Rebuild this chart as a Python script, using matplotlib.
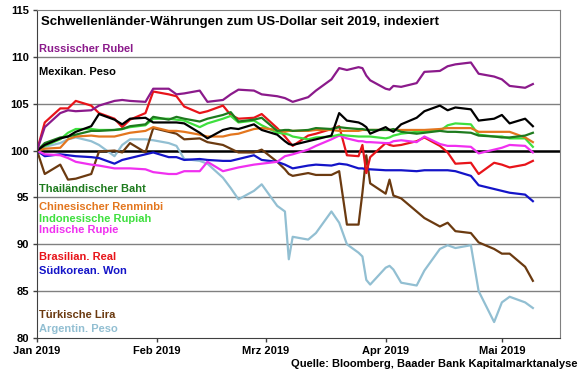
import matplotlib
matplotlib.use("Agg")
import matplotlib.pyplot as plt
import matplotlib.dates as mdates
import matplotlib.transforms as mtransforms
import pandas as pd

plt.rcParams['font.family'] = ['Liberation Sans', 'DejaVu Sans']

# Data (index, 1.1.2019 = 100)
dates = pd.to_datetime([
    "2019-01-01", "2019-01-03", "2019-01-07", "2019-01-09", "2019-01-11", "2019-01-15",
    "2019-01-17", "2019-01-21", "2019-01-23", "2019-01-25", "2019-01-29", "2019-01-31",
    "2019-02-04", "2019-02-06", "2019-02-08", "2019-02-12", "2019-02-14", "2019-02-18",
    "2019-02-20", "2019-02-22", "2019-02-26", "2019-02-28",
    "2019-03-04", "2019-03-06", "2019-03-07", "2019-03-08", "2019-03-12", "2019-03-14",
    "2019-03-18", "2019-03-20", "2019-03-22", "2019-03-25", "2019-03-26", "2019-03-27",
    "2019-03-28",
    "2019-04-01", "2019-04-02", "2019-04-03", "2019-04-05", "2019-04-09", "2019-04-11",
    "2019-04-15", "2019-04-17", "2019-04-19", "2019-04-23", "2019-04-25", "2019-04-29",
    "2019-05-01", "2019-05-03", "2019-05-07", "2019-05-09",
])

rub = [100.0, 102.5, 104.0, 104.3, 104.2, 104.3, 104.8, 105.3, 105.4, 105.3, 105.2, 106.6,
       106.6, 106.0, 106.1, 106.4, 105.2, 105.4, 106.0, 106.5, 106.4, 106.0,
       105.8, 105.6, 105.4, 105.2, 105.7, 106.4, 107.6, 108.8, 108.6, 108.9, 108.8, 108.0, 107.5,
       106.6, 106.5, 106.9, 106.8, 107.2, 108.4, 108.5, 109.0, 109.2, 109.4, 108.2, 107.9,
       107.6, 106.9, 106.7, 107.1]
mxn = [100.0, 100.6, 101.3, 101.5, 102.0, 102.6, 103.9, 103.3, 102.8, 103.4, 103.5, 103.0,
       103.0, 103.0, 102.9, 101.9, 101.3, 102.2, 102.4, 102.3, 102.8, 102.2,
       101.7, 101.0, 100.7, 100.6, 101.0, 101.2, 101.6, 104.0, 103.2, 103.0, 102.8, 102.5, 101.8,
       102.5, 102.2, 102.0, 102.8, 103.5, 104.2, 104.8, 104.3, 104.6, 104.4, 103.2, 103.4,
       103.8, 102.9, 103.4, 102.6]
thb = [100.0, 100.8, 101.4, 101.5, 101.7, 102.1, 102.1, 102.2, 102.3, 102.6, 102.8, 103.6,
       103.3, 103.6, 103.4, 103.1, 103.4, 103.8, 104.1, 103.1, 103.3, 103.5,
       102.1, 102.2, 102.2, 102.1, 102.2, 102.4, 102.3, 102.5, 102.4, 102.3, 102.3, 102.2, 102.2,
       102.2, 102.2, 102.3, 102.0, 101.8, 101.9, 102.1, 102.0, 102.0, 101.9, 101.6, 101.5,
       101.4, 101.4, 101.6, 101.9]
cny = [100.0, 100.2, 100.3, 101.2, 101.5, 101.6, 101.5, 101.5, 101.7, 101.9, 102.1, 102.5,
       102.1, 102.1, 102.0, 101.7, 101.5, 101.5, 101.7, 101.8, 102.3, 102.4,
       102.2, 102.0, 102.1, 102.1, 102.1, 102.2, 102.2, 102.1, 102.1, 102.1, 102.2, 102.2, 102.2,
       102.2, 102.2, 102.2, 102.2, 102.2, 102.2, 102.3, 102.4, 102.4, 102.4, 102.0, 102.0,
       102.0, 102.0, 101.4, 100.9]
idr = [100.0, 100.5, 101.2, 101.9, 102.3, 102.3, 102.2, 102.2, 102.3, 102.5, 102.7, 103.4,
       103.4, 103.3, 103.2, 102.5, 102.9, 103.4, 103.7, 103.0, 103.2, 102.7,
       101.9, 101.8, 101.7, 101.5, 101.2, 101.4, 101.5, 101.7, 101.6, 101.5, 101.5, 101.5, 101.5,
       101.3, 101.4, 101.6, 101.8, 102.0, 102.1, 102.1, 102.7, 102.9, 102.8, 101.7, 101.5,
       101.5, 101.3, 101.3, 100.4]
inr = [100.0, 99.6, 99.5, 99.2, 98.8, 98.5, 98.4, 98.1, 98.1, 98.1, 98.0, 97.7,
       97.5, 97.5, 97.8, 97.8, 98.8, 97.8, 98.0, 98.2, 98.5, 98.6,
       98.8, 99.4, 99.5, 99.6, 100.1, 100.5, 101.2, 101.6, 101.3, 101.0, 101.0, 100.9, 100.9,
       100.8, 100.8, 101.0, 101.1, 100.9, 101.5, 100.7, 100.5, 100.5, 100.4, 99.7, 100.1,
       100.3, 100.6, 100.5, 99.8]
brl = [100.0, 103.0, 104.5, 104.5, 105.3, 104.8, 104.0, 103.4, 102.5, 103.3, 104.0, 106.3,
       106.0, 105.8, 104.7, 104.0, 104.2, 104.8, 103.8, 103.4, 103.5, 103.9,
       102.4, 101.5, 101.0, 100.5, 101.6, 101.8, 102.3, 102.6, 99.5, 99.4, 100.6, 97.6, 99.3,
       100.8, 100.6, 100.5, 100.6, 101.0, 101.4, 100.5, 99.8, 98.6, 98.7, 97.5, 98.7,
       98.5, 98.2, 98.5, 98.9]
krw = [100.0, 99.4, 99.6, 99.5, 99.4, 99.3, 99.2, 98.6, 99.0, 99.2, 99.6, 99.8,
       99.3, 99.3, 99.0, 99.1, 99.0, 98.9, 98.9, 99.1, 99.5, 99.0,
       98.8, 98.5, 98.3, 98.1, 98.4, 98.5, 98.4, 98.6, 98.5, 98.1, 98.1, 98.0, 98.0,
       97.9, 97.9, 97.9, 97.9, 97.8, 97.9, 97.9, 97.9, 97.8, 97.3, 96.3, 95.9,
       95.7, 95.5, 95.3, 94.6]
tl = [100.0, 97.5, 98.5, 96.9, 97.0, 97.5, 99.9, 100.0, 99.8, 100.8, 99.8, 102.4,
      102.0, 101.8, 101.2, 101.3, 100.9, 100.6, 100.2, 99.8, 99.8, 100.1,
      98.8, 98.0, 97.5, 97.3, 97.6, 97.4, 97.4, 97.8, 92.1, 92.1, 95.5, 99.5, 96.5,
      95.4, 96.9, 95.2, 94.9, 93.5, 92.8, 91.9, 92.3, 91.4, 91.2, 90.2, 89.5,
      89.0, 89.0, 87.6, 86.1]
ars = [100.0, 100.4, 100.8, 101.2, 101.4, 101.0, 100.6, 99.4, 100.6, 101.2, 101.2, 101.1,
       100.8, 100.5, 99.1, 98.9, 98.6, 97.1, 96.0, 94.8, 95.7, 96.4,
       94.1, 93.5, 88.4, 90.8, 90.5, 91.2, 93.5, 92.3, 90.0, 89.1, 88.7, 86.2, 85.7,
       87.5, 87.7, 87.3, 85.9, 85.6, 87.2, 89.5, 89.9, 89.6, 89.9, 85.0, 81.7,
       83.8, 84.4, 83.8, 83.2]

# name, values, colour, label height (data units)
series = [
    ("Russischer Rubel", rub, "#8b1a8b", 110.8),
    ("Mexikan. Peso", mxn, "#000000", 108.4),
    ("Thailändischer Baht", thb, "#1e7b1e", 95.9),
    ("Chinesischer Renminbi", cny, "#e3761e", 94.0),
    ("Indonesische Rupiah", idr, "#3ee03e", 92.7),
    ("Indische Rupie", inr, "#f030f0", 91.5),
    ("Brasilian. Real", brl, "#e8141a", 88.6),
    ("Südkorean. Won", krw, "#1414c8", 87.2),
    ("Türkische Lira", tl, "#6b3a10", 82.5),
    ("Argentin. Peso", ars, "#92bfd2", 81.0),
]

fig = plt.figure(figsize=(5.8, 3.75), dpi=100)
ax = fig.add_axes([0.0638, 0.0987, 0.9017, 0.8746])

# horizontal grid lines and the thick 100 line
for g in [85, 90, 95, 105, 110]:
    ax.axhline(g, color="#808080", lw=1.0, zorder=1)
ax.axhline(100, color="black", lw=1.8, zorder=1.5)

# draw the series (back to front)
for name, values, color, ylab in reversed(series):
    ax.plot(dates, values, color=color, lw=1.6, zorder=2)

# labels inside the chart
trans = mtransforms.blended_transform_factory(ax.transAxes, ax.transData)
for name, values, color, ylab in series:
    ax.text(0.004, ylab, name, color=color, fontsize=8, fontweight="bold",
            transform=trans, ha="left", va="center")

ax.text(0.007, 113.7, "Schwellenländer-Währungen zum US-Dollar seit 2019, indexiert",
        transform=trans, fontsize=9.5, fontweight="bold", ha="left", va="center")

# axes
ax.set_ylim(80, 115)
ax.set_yticks([80, 85, 90, 95, 100, 105, 110, 115])
ax.set_xlim(pd.Timestamp("2019-01-01"), pd.Timestamp("2019-05-16"))
ax.set_xticks(pd.to_datetime(["2019-01-01", "2019-02-01", "2019-03-01", "2019-04-01", "2019-05-01"]))
ax.set_xticklabels(["Jan 2019", "Feb 2019", "Mrz 2019", "Apr 2019", "Mai 2019"])
ax.tick_params(axis="both", labelsize=8, length=3, width=1, pad=3, color="#404040")
for lab in ax.get_xticklabels() + ax.get_yticklabels():
    lab.set_fontweight("bold")

ax.spines["left"].set_color("#404040")
ax.spines["bottom"].set_color("#404040")
ax.spines["top"].set_color("#808080")
ax.spines["right"].set_color("#808080")

fig.text(0.995, 0.029, "Quelle: Bloomberg, Baader Bank Kapitalmarktanalyse",
         fontsize=8, fontweight="bold", ha="right", va="center")

fig.savefig("out.png", dpi=100)
